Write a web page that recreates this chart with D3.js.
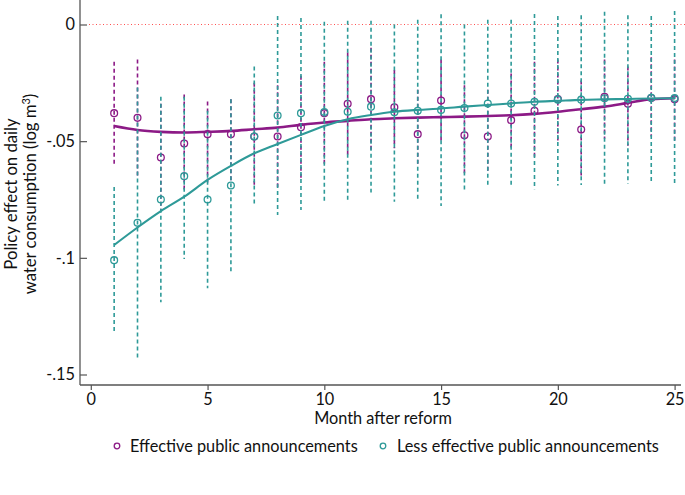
<!DOCTYPE html>
<html>
<head>
<meta charset="utf-8">
<script src="https://cdn.jsdelivr.net/npm/d3@7"></script>
<style>
  html, body { margin: 0; padding: 0; background: #fff; }
  svg { display: block; font-family: Lato, "Open Sans", sans-serif; }
</style>
</head>
<body>
<div id="chart"></div>
<script>
// ── Data ──
const months = d3.range(1, 26);

// Effective public announcements
const effPoint = [-0.038, -0.040, -0.057, -0.051, -0.047, -0.047, -0.048, -0.048, -0.044, -0.038,
                  -0.034, -0.032, -0.0355, -0.047, -0.0326, -0.0475, -0.048, -0.041, -0.037, -0.032,
                  -0.045, -0.031, -0.034, -0.0315, -0.032];
const effHi    = [-0.016, -0.015, -0.034, -0.030, -0.033, -0.032, -0.025, -0.026, -0.022, -0.016,
                  -0.012, -0.010, -0.0195, -0.028, -0.015, -0.026, -0.028, -0.021, -0.016, -0.015,
                  -0.024, -0.015, -0.018, -0.014, -0.015];
const effLo    = [-0.061, -0.065, -0.080, -0.072, -0.068, -0.068, -0.070, -0.070, -0.066, -0.060,
                  -0.056, -0.054, -0.053, -0.061, -0.050, -0.064, -0.063, -0.054, -0.058, -0.050,
                  -0.066, -0.049, -0.052, -0.048, -0.050];
const effFit   = [-0.0435, -0.0452, -0.046, -0.0463, -0.046, -0.0456, -0.0449, -0.0442, -0.043, -0.042,
                  -0.0413, -0.0406, -0.0402, -0.0399, -0.0397, -0.0395, -0.0392, -0.0389, -0.0383, -0.0374,
                  -0.0363, -0.0352, -0.0336, -0.032, -0.0316];

// Less effective public announcements
const lessPoint = [-0.101, -0.085, -0.075, -0.065, -0.075, -0.069, -0.048, -0.039, -0.038, -0.0375,
                   -0.0374, -0.0352, -0.0376, -0.037, -0.0366, -0.0358, -0.0339, -0.0339, -0.0331, -0.0322,
                   -0.0322, -0.0316, -0.0318, -0.0314, -0.0315];
const lessHi    = [-0.0696, -0.027, -0.031, -0.031, -0.037, -0.032, -0.018, 0.0036, 0.0028, 0.0012,
                   0.0016, 0.0016, 0.0, 0.002, 0.0044, 0.0, 0.002, 0.002, 0.0045, 0.0036,
                   0.004, 0.0055, 0.004, 0.0036, 0.0058];
const lessLo    = [-0.132, -0.143, -0.119, -0.1005, -0.113, -0.1065, -0.078, -0.0816, -0.0795, -0.0765,
                   -0.076, -0.072, -0.076, -0.076, -0.0778, -0.0716, -0.0698, -0.0697, -0.0706, -0.069,
                   -0.0688, -0.069, -0.0683, -0.0673, -0.0683];
const lessFit   = [-0.0945, -0.087, -0.080, -0.0738, -0.0666, -0.0606, -0.0552, -0.0512, -0.0473, -0.0435,
                   -0.0406, -0.0388, -0.0374, -0.0366, -0.036, -0.0352, -0.0345, -0.0338, -0.0331, -0.0327,
                   -0.0323, -0.0321, -0.0319, -0.0317, -0.0316];

const xTicks = [0, 5, 10, 15, 20, 25];
const yTicks = [0, -0.05, -0.1, -0.15];
const yTickLabels = ['0', '-.05', '-.1', '-.15'];

const seriesNames = ['Effective public announcements', 'Less effective public announcements'];
const PURPLE = '#8c1a86';
const TEAL   = '#2e9a98';

// ── Layout ──
const W = 685, H = 495;
const left = 80, bottom = 385, right = 685;
const FS = 16.3;
const axisColor = '#555';

const x = d3.scaleLinear().domain([0, 25]).range([90.8, 674.6]);
const y = d3.scaleLinear().domain([-0.15, 0]).range([374.5, 24.5]);

const svg = d3.select('#chart').append('svg')
  .attr('width', W).attr('height', H);

// zero reference line
svg.append('line')
  .attr('x1', left + 9).attr('x2', right)
  .attr('y1', y(0)).attr('y2', y(0))
  .attr('stroke', '#ff5050').attr('stroke-width', 1)
  .attr('stroke-dasharray', '1,2.5');

// ── Series ──
function drawCI(lo, hi, color) {
  const g = svg.append('g');
  g.selectAll('line.ci').data(months).join('line')
    .attr('class', 'ci')
    .attr('x1', (d) => x(d)).attr('x2', (d) => x(d))
    .attr('y1', (d, i) => y(hi[i])).attr('y2', (d, i) => y(lo[i]))
    .attr('stroke', color).attr('stroke-width', 1.6)
    .attr('stroke-dasharray', '4,3');
  return g;
}

function drawFitAndPoints(g, pts, fit, color, fitWidth) {
  const line = d3.line()
    .x((d) => x(d))
    .y((d, i) => y(fit[i]))
    .curve(d3.curveMonotoneX);
  g.append('path').datum(months)
    .attr('d', line)
    .attr('fill', 'none')
    .attr('stroke', color).attr('stroke-width', fitWidth);
  g.selectAll('circle').data(months).join('circle')
    .attr('cx', (d) => x(d)).attr('cy', (d, i) => y(pts[i]))
    .attr('r', 3.4)
    .attr('fill', 'none').attr('stroke', color).attr('stroke-width', 1.3);
}

const gEff  = drawCI(effLo, effHi, PURPLE);
const gLess = drawCI(lessLo, lessHi, TEAL);
drawFitAndPoints(gEff, effPoint, effFit, PURPLE, 2.6);
drawFitAndPoints(gLess, lessPoint, lessFit, TEAL, 2.1);

// ── Axes ──
svg.append('line')
  .attr('x1', left).attr('x2', left).attr('y1', 0).attr('y2', bottom)
  .attr('stroke', axisColor).attr('stroke-width', 1.3);
svg.append('line')
  .attr('x1', left).attr('x2', right - 4).attr('y1', bottom).attr('y2', bottom)
  .attr('stroke', axisColor).attr('stroke-width', 1.3);

// y ticks point into the plot, labels sit left of the axis
const yAxis = d3.axisLeft(y).tickValues(yTicks)
  .tickFormat((d, i) => yTickLabels[i]).tickSize(-7).tickPadding(5);
svg.append('g').attr('transform', `translate(${left},0)`).call(yAxis)
  .call((g) => g.select('.domain').remove())
  .call((g) => g.selectAll('line').attr('stroke', axisColor).attr('stroke-width', 1.2))
  .call((g) => g.selectAll('text').attr('font-size', FS).attr('fill', '#111')
    .attr('font-family', 'Lato, sans-serif'));

const xAxis = d3.axisBottom(x).tickValues(xTicks).tickSize(5).tickPadding(3);
svg.append('g').attr('transform', `translate(0,${bottom})`).call(xAxis)
  .call((g) => g.select('.domain').remove())
  .call((g) => g.selectAll('line').attr('stroke', axisColor).attr('stroke-width', 1.2))
  .call((g) => g.selectAll('text').attr('font-size', FS).attr('fill', '#111')
    .attr('font-family', 'Lato, sans-serif'));

// axis titles
svg.append('text')
  .attr('x', 383).attr('y', 424)
  .attr('text-anchor', 'middle').attr('font-size', FS).attr('fill', '#111')
  .text('Month after reform');

const yTitle = svg.append('text')
  .attr('transform', 'translate(0,194) rotate(-90)')
  .attr('text-anchor', 'middle').attr('font-size', FS + 0.4).attr('fill', '#111');
yTitle.append('tspan').attr('x', 0).attr('y', 17).text('Policy effect on daily');
const t2 = yTitle.append('tspan').attr('x', 0).attr('y', 36).text('water consumption (log m');
t2.append('tspan').attr('dy', -6).attr('font-size', 11).text('3');
t2.append('tspan').attr('dy', 6).text(')');

// ── Legend ──
const legend = svg.append('g').attr('transform', 'translate(0,447)');
const legendItems = [
  { name: seriesNames[0], color: PURPLE, cx: 117, tx: 130 },
  { name: seriesNames[1], color: TEAL, cx: 383, tx: 397 }
];
legendItems.forEach((d) => {
  legend.append('circle').attr('cx', d.cx).attr('cy', -1).attr('r', 2.8)
    .attr('fill', 'none').attr('stroke', d.color).attr('stroke-width', 1.3);
  legend.append('text').attr('x', d.tx).attr('y', 5)
    .attr('font-size', FS).attr('fill', '#111').text(d.name);
});
</script>
</body>
</html>
